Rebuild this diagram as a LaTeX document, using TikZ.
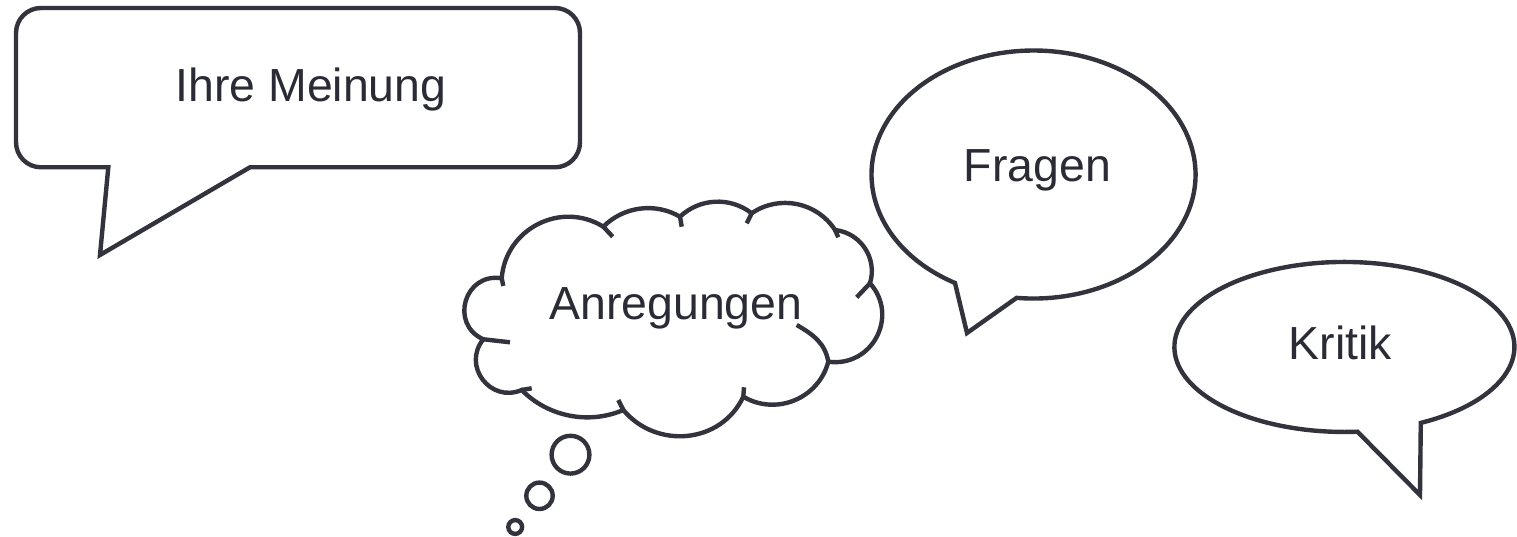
\documentclass[tikz,border=0pt]{standalone}
\usepackage{fontspec}
\setmainfont{Liberation Sans}
\usepackage{xcolor}
\usepackage{tikz}
\definecolor{SBLine}{HTML}{32333D}
\definecolor{SBText}{HTML}{2A2B35}

\begin{document}
\begin{tikzpicture}[x=0.01cm,y=0.01cm,
  bubble/.style={draw=SBLine,line width=1.25pt,fill=white},
  stub/.style={draw=SBLine,line width=1.25pt},
  lbl/.style={anchor=base,inner sep=0pt,text=SBText,font=\fontsize{13.2}{16}\selectfont}]
\path[use as bounding box] (0,0) rectangle (1517,537);
% rectangle callout
\draw[bubble] (250,369.7) -- (555,369.7) to[out=0,in=-90] (580,394.7) -- (580,504) to[out=90,in=0] (555,529)
  -- (41,529) to[out=180,in=90] (16,504) -- (16,394.7) to[out=-90,in=180] (41,369.7) -- (108.3,369.7)
  -- (100,282) -- cycle;
\node[lbl] (meinung) at (311,435.3) {Ihre Meinung};
% cloud callout
\draw[bubble] (501.7,258.7)
  to[out=85.5,in=148.3,looseness=1.12] (603.3,310.3)
  to[out=45,in=149.8,looseness=0.95] (680,320.3)
  to[out=43.3,in=142.1,looseness=0.97] (751.7,323.7)
  to[out=34.6,in=122.8,looseness=1.0] (835,307)
  to[out=-6.3,in=72.9,looseness=1.04] (870,253.7)
  to[out=-48.2,in=-7.8,looseness=1.27] (828.3,175.3)
  to[out=-104.5,in=-30.7,looseness=1.06] (743.3,140.3)
  to[out=-115,in=-50,looseness=1.1] (623.3,127)
  to[out=-156.7,in=-45.5,looseness=0.93] (521.7,147)
  to[out=-156.7,in=-129.1,looseness=1.37] (483.3,197.7)
  to[out=155.9,in=170.5,looseness=1.51] (501.7,258.7) -- cycle;
\draw[stub] (501.7,258.7) -- (503.3,251);
\draw[stub] (603.3,310.3) -- (612.7,300.3);
\draw[stub] (680,320.3) -- (681.7,310.3);
\draw[stub] (751.7,323.7) -- (746.7,313.7);
\draw[stub] (835,307) -- (838.3,299.7);
\draw[stub] (870,253.7) -- (856.7,239.7);
\draw[stub] (796.7,212) to[out=-30,in=100] (828.3,175.3);
\draw[stub] (743.3,140.3) -- (744,149.7);
\draw[stub] (623.3,127) -- (618.3,137);
\draw[stub] (521.7,147) -- (531.7,148.7);
\draw[stub] (483.3,197.7) -- (510,194.7);
\draw[bubble] (570.5,82.3) circle[radius=18.9];
\draw[bubble] (539.5,41.2) circle[radius=13.2];
\draw[bubble] (515.2,10) circle[radius=6.9];
\node[lbl] (anregungen) at (676,217.7) {Anregungen};
% oval callouts
\draw[bubble] (967,204) -- (955,254) arc[start angle=241,end angle=-96,x radius=162,y radius=124] -- cycle;
\node[lbl] (fragen) at (1037.5,355.3) {Fragen};
\draw[bubble] (1420,42) -- (1420.8,114.1) arc[start angle=-63.3,end angle=274.4,x radius=170,y radius=85] -- cycle;
\node[lbl] (kritik) at (1340.5,177.7) {Kritik};
\end{tikzpicture}
\end{document}
